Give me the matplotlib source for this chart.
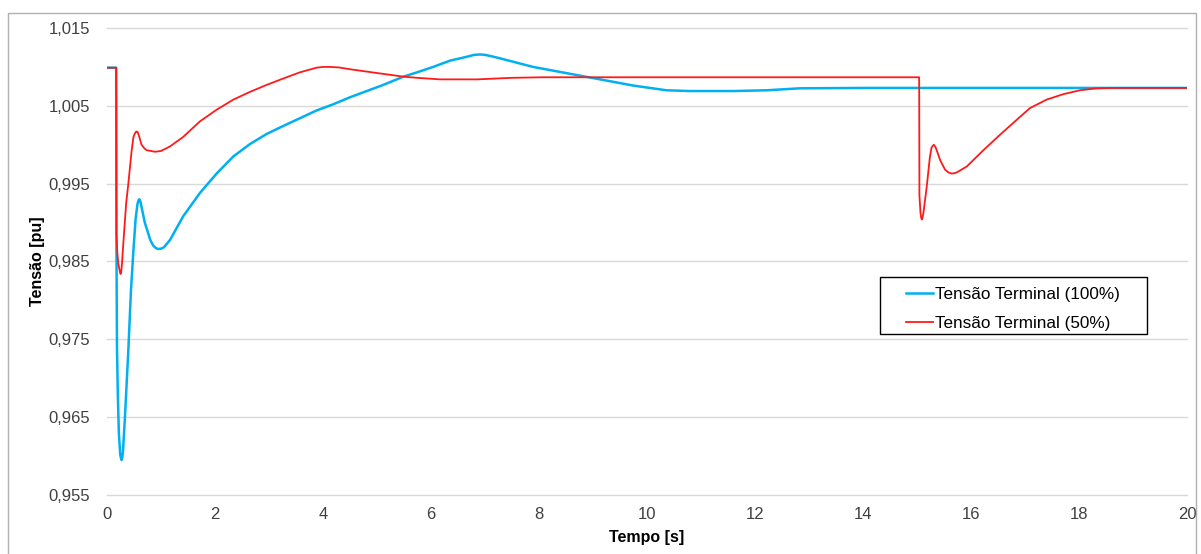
import matplotlib
matplotlib.use("Agg")
import matplotlib.pyplot as plt
from matplotlib.patches import Rectangle
from matplotlib.ticker import FuncFormatter

# Tensão Terminal (100%)
t_100 = [0, 0.17, 0.175, 0.185, 0.20, 0.22, 0.245, 0.26, 0.27, 0.28, 0.295, 0.333, 0.395,
         0.444, 0.49, 0.53, 0.565, 0.585, 0.60, 0.615, 0.64, 0.70, 0.80, 0.85, 0.90, 0.95,
         1.0, 1.05, 1.1, 1.17, 1.41, 1.72, 2.03, 2.34, 2.65, 2.96, 3.26, 3.57, 3.88, 4.19,
         4.5, 4.81, 5.12, 5.49, 5.74, 6.04, 6.35, 6.66, 6.8, 6.91, 7.0, 7.1, 7.28, 7.89,
         8.51, 9.13, 9.75, 10.36, 10.8, 11.6, 12.22, 12.83, 14, 20]
v_100 = [1.0099, 1.0099, 0.9870, 0.9740, 0.9680, 0.9629, 0.9602, 0.9597, 0.9595, 0.9597,
         0.9605, 0.9651, 0.9736, 0.9813, 0.9865, 0.9905, 0.9924, 0.9929, 0.9930, 0.9928,
         0.9920, 0.9900, 0.9878, 0.9871, 0.98675, 0.9866, 0.98665, 0.9868, 0.9872, 0.9878,
         0.9908, 0.9938, 0.9963, 0.9985, 1.0001, 1.0014, 1.0024, 1.0034, 1.0044, 1.0052,
         1.0061, 1.0069, 1.0077, 1.00875, 1.0093, 1.0100, 1.0108, 1.0113, 1.01155, 1.0116,
         1.01155, 1.0114, 1.0111, 1.0100, 1.0092, 1.0084, 1.0076, 1.0070, 1.0069, 1.0069,
         1.0070, 1.00725, 1.0073, 1.0073]

# Tensão Terminal (50%)
t_50 = [0, 0.17, 0.175, 0.19, 0.21, 0.235, 0.245, 0.253, 0.262, 0.275, 0.315, 0.355, 0.395,
        0.457, 0.49, 0.52, 0.535, 0.55, 0.565, 0.59, 0.64, 0.69, 0.735, 0.89, 1.0, 1.17,
        1.41, 1.72, 2.03, 2.34, 2.65, 2.96, 3.26, 3.57, 3.88, 4.0, 4.13, 4.3, 4.5, 4.81,
        5.12, 5.49, 5.74, 6.17, 6.85, 7.5, 8.08, 15.04, 15.045, 15.065, 15.08, 15.09,
        15.10, 15.12, 15.18, 15.24, 15.27, 15.31, 15.34, 15.38, 15.43, 15.52, 15.58, 15.64,
        15.70, 15.75, 15.92, 16.23, 16.54, 16.91, 17.09, 17.40, 17.71, 18.02, 18.33,
        18.63, 20]
v_50 = [1.0099, 1.0099, 0.9885, 0.9862, 0.9847, 0.9838, 0.9835, 0.9834, 0.9836, 0.9845,
        0.9886, 0.9925, 0.9950, 0.9993, 1.0010, 1.0015, 1.00165, 1.0017, 1.00165, 1.0012,
        1.0000, 0.99955, 0.9993, 0.9991, 0.9992, 0.9998, 1.0010, 1.0030, 1.0045, 1.0058,
        1.0068, 1.0077, 1.0085, 1.0093, 1.0099, 1.0100, 1.0100, 1.00993, 1.0097, 1.0094,
        1.0091, 1.00875, 1.0086, 1.0084, 1.0084, 1.0086, 1.00867, 1.00867, 0.9935, 0.9912,
        0.99055, 0.9904, 0.99055, 0.9913, 0.9946, 0.9985, 0.99965, 1.0000, 0.99975, 0.9990,
        0.9980, 0.9968, 0.99645, 0.9963, 0.99635, 0.9965, 0.9972, 0.9993, 1.0013, 1.0036,
        1.0047, 1.0058, 1.0065, 1.0070, 1.00725, 1.0073, 1.0073]

y_ticks = [0.955, 0.965, 0.975, 0.985, 0.995, 1.005, 1.015]
x_ticks = [0, 2, 4, 6, 8, 10, 12, 14, 16, 18, 20]

plt.rcParams['font.family'] = ['Liberation Sans', 'DejaVu Sans']

fig = plt.figure(figsize=(12.01, 5.54), dpi=100)
ax = fig.add_axes([107/1201, 1-495/554, 1080/1201, 467/554])

ax.plot(t_100, v_100, color='#00B0F0', lw=1.8, label='Tensão Terminal (100%)')
ax.plot(t_50, v_50, color='#FF1A1A', lw=1.3, label='Tensão Terminal (50%)')

ax.set_xlim(0, 20)
ax.set_ylim(0.955, 1.015)
ax.set_xticks(x_ticks)
ax.set_yticks(y_ticks)
ax.yaxis.set_major_formatter(FuncFormatter(lambda v, p: f"{v:.3f}".replace('.', ',')))
ax.grid(axis='y', color='#D9D9D9', lw=1)
for g in ax.get_ygridlines():
    g.set_clip_on(False)
ax.set_axisbelow(True)
for s in ax.spines.values():
    s.set_visible(False)
ax.tick_params(axis='x', length=0, pad=8.5, labelsize=12, labelcolor='#404040')
ax.tick_params(axis='y', length=0, pad=12, labelsize=12, labelcolor='#404040')

ax.set_xlabel('Tempo [s]', fontsize=11.5, fontweight='bold', va='center')
ax.xaxis.set_label_coords(0.5, -0.09)
ax.set_ylabel('Tensão [pu]', fontsize=11.5, fontweight='bold', va='center')
ax.yaxis.set_label_coords(-0.064, 0.5)

# legend text and lines, box drawn separately
leg = ax.legend(loc='upper left', bbox_to_anchor=(906/1201, 1-287/554),
                bbox_transform=fig.transFigure, fontsize=12.3, frameon=False,
                borderaxespad=0, borderpad=0, handlelength=1.6,
                handletextpad=0.12, labelspacing=0.8)
fig.patches.append(Rectangle((880/1201, 1-334/554), 267/1201, 57/554,
                             transform=fig.transFigure, fill=False,
                             edgecolor='black', lw=1))

fig.patches.append(Rectangle((8/1201, -0.05), 1188/1201, 1.05 - 13/554,
                             transform=fig.transFigure, fill=False,
                             edgecolor='#B0B0B0', lw=1))

plt.savefig("out.png", dpi=100)
plt.close()
